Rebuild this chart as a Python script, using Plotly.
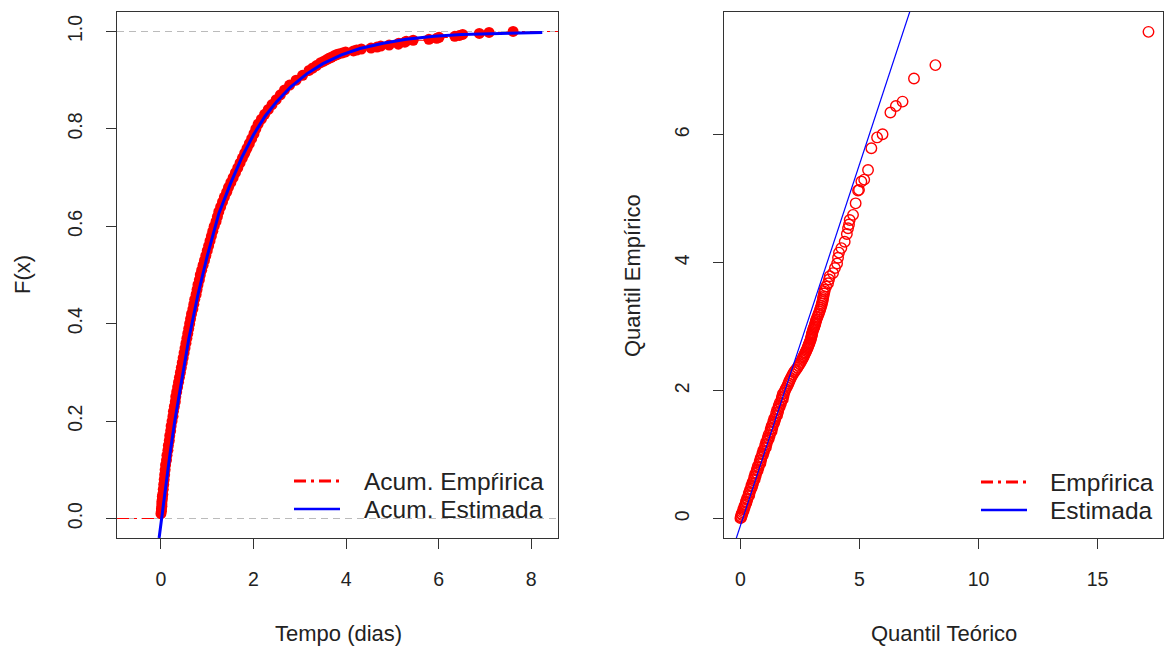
import plotly.graph_objects as go

W, H = 1165, 648

# ---------------- data ----------------
# Left panel: empirical cumulative distribution (sorted times, cumulative proportion)
ecdf_tempo = [0.00, 0.01, 0.01, 0.02, 0.02, 0.02, 0.03, 0.03, 0.04, 0.05, 0.06, 0.07, 0.08, 0.09,
              0.10, 0.12, 0.13, 0.15, 0.16, 0.18, 0.19, 0.21, 0.22, 0.24, 0.26, 0.27, 0.29, 0.31,
              0.32, 0.34, 0.36, 0.38, 0.40, 0.42, 0.44, 0.46, 0.48, 0.50, 0.52, 0.54, 0.56, 0.58,
              0.60, 0.62, 0.64, 0.66, 0.69, 0.71, 0.73, 0.76, 0.78, 0.80, 0.83, 0.85, 0.88, 0.91,
              0.94, 0.97, 1.00, 1.03, 1.06, 1.09, 1.12, 1.15, 1.19, 1.22, 1.25, 1.29, 1.33, 1.37,
              1.42, 1.46, 1.51, 1.56, 1.61, 1.66, 1.71, 1.76, 1.81, 1.86, 1.91, 1.96, 2.01, 2.05,
              2.10, 2.17, 2.24, 2.32, 2.40, 2.49, 2.58, 2.67, 2.78, 2.92, 3.06, 3.20, 3.28, 3.36,
              3.45, 3.52, 3.58, 3.63, 3.68, 3.74, 3.79, 3.84, 3.92, 3.99, 4.16, 4.23, 4.33, 4.54,
              4.67, 4.75, 4.93, 5.13, 5.14, 5.27, 5.30, 5.45, 5.79, 5.96, 6.01, 6.35, 6.45, 6.52,
              6.88, 7.09, 7.61]
ecdf_prop = [0.010, 0.015, 0.020, 0.025, 0.030, 0.035, 0.040, 0.045, 0.050, 0.06, 0.07, 0.08, 0.09,
             0.10, 0.11, 0.12, 0.13, 0.14, 0.15, 0.16, 0.17, 0.18, 0.19, 0.20, 0.21, 0.22, 0.23,
             0.24, 0.25, 0.26, 0.27, 0.28, 0.29, 0.30, 0.31, 0.32, 0.33, 0.34, 0.35, 0.36, 0.37,
             0.38, 0.39, 0.40, 0.41, 0.42, 0.43, 0.44, 0.45, 0.46, 0.47, 0.48, 0.49, 0.50, 0.51,
             0.52, 0.53, 0.54, 0.55, 0.56, 0.57, 0.58, 0.59, 0.60, 0.61, 0.62, 0.63, 0.64, 0.65,
             0.66, 0.67, 0.68, 0.69, 0.70, 0.71, 0.72, 0.73, 0.74, 0.75, 0.76, 0.77, 0.78, 0.79,
             0.80, 0.81, 0.82, 0.83, 0.84, 0.85, 0.86, 0.87, 0.88, 0.89, 0.90, 0.91, 0.92, 0.925,
             0.930, 0.936, 0.939, 0.942, 0.945, 0.947, 0.950, 0.952, 0.954, 0.956, 0.958, 0.960,
             0.962, 0.964, 0.966, 0.968, 0.970, 0.972, 0.974, 0.976, 0.978, 0.980, 0.982, 0.984,
             0.986, 0.988, 0.990, 0.992, 0.994, 0.996, 0.998, 1.000]

# Left panel: fitted (estimated) cumulative curve
est_tempo = [-0.04, 0.0, 0.1, 0.2, 0.3, 0.45, 0.6, 0.8, 1.0, 1.25, 1.5, 1.75, 2.0, 2.25, 2.5,
             2.8, 3.15, 3.5, 3.9, 4.3, 4.8, 5.3, 5.9, 6.5, 7.2, 7.8, 8.24]
est_prop = [-0.040, -0.009, 0.066, 0.136, 0.201, 0.289, 0.368, 0.460, 0.539, 0.626, 0.687, 0.742,
            0.788, 0.826, 0.856, 0.886, 0.913, 0.934, 0.952, 0.965, 0.976, 0.984, 0.990, 0.994,
            0.996, 0.998, 0.998]

# Right panel: QQ plot (theoretical quantile, empirical quantile)
qq_empirico = [0.01, 0.02, 0.04, 0.06, 0.08, 0.10, 0.12, 0.15, 0.17, 0.20, 0.22, 0.25, 0.27, 0.30,
               0.32, 0.35, 0.37, 0.40, 0.42, 0.45, 0.47, 0.50, 0.52, 0.55, 0.57, 0.60, 0.62, 0.65,
               0.67, 0.70, 0.72, 0.75, 0.77, 0.80, 0.82, 0.85, 0.87, 0.90, 0.92, 0.95, 0.97, 1.00,
               1.02, 1.05, 1.07, 1.10, 1.12, 1.15, 1.17, 1.20, 1.22, 1.25, 1.27, 1.30, 1.32, 1.35,
               1.37, 1.40, 1.42, 1.45, 1.47, 1.50, 1.52, 1.55, 1.57, 1.60, 1.62, 1.65, 1.67, 1.70,
               1.72, 1.75, 1.77, 1.80, 1.82, 1.85, 1.87, 1.90, 1.92, 1.95, 1.97, 2.00, 2.03, 2.06,
               2.09, 2.12, 2.15, 2.17, 2.20, 2.23, 2.26, 2.29, 2.31, 2.33, 2.36, 2.39, 2.42, 2.45,
               2.48, 2.50, 2.52, 2.54, 2.56, 2.58, 2.60, 2.62, 2.64, 2.66, 2.68, 2.70, 2.72, 2.74,
               2.76, 2.78, 2.80, 2.82, 2.84, 2.86, 2.88, 2.90, 2.92, 2.95, 2.97, 2.99, 3.01, 3.03,
               3.05, 3.07, 3.09, 3.11, 3.14, 3.16, 3.19, 3.21, 3.24, 3.27, 3.30, 3.33, 3.36, 3.39,
               3.42, 3.45, 3.48, 3.52, 3.55, 3.58, 3.63, 3.68, 3.74, 3.79, 3.84, 3.92, 3.99, 4.08,
               4.16, 4.23, 4.33, 4.45, 4.54, 4.60, 4.67, 4.75, 4.93, 5.13, 5.14, 5.27, 5.30, 5.45,
               5.79, 5.96, 6.01, 6.35, 6.45, 6.52, 6.88, 7.09, 7.61]
qq_teorico = [0.00, 0.03, 0.02, 0.07, 0.05, 0.09, 0.13, 0.12, 0.17, 0.17, 0.21, 0.25, 0.23, 0.29,
              0.28, 0.33, 0.37, 0.35, 0.40, 0.40, 0.45, 0.49, 0.46, 0.53, 0.51, 0.56, 0.60, 0.58,
              0.64, 0.62, 0.67, 0.72, 0.69, 0.76, 0.73, 0.79, 0.84, 0.81, 0.87, 0.85, 0.90, 0.95,
              0.92, 0.99, 0.96, 1.03, 1.07, 1.04, 1.10, 1.08, 1.14, 1.19, 1.15, 1.23, 1.19, 1.26,
              1.31, 1.27, 1.34, 1.31, 1.37, 1.42, 1.38, 1.46, 1.42, 1.49, 1.54, 1.50, 1.58, 1.54,
              1.60, 1.65, 1.61, 1.70, 1.66, 1.73, 1.78, 1.74, 1.81, 1.78, 1.84, 1.87, 1.90, 1.95,
              1.99, 2.02, 2.05, 2.08, 2.12, 2.16, 2.20, 2.25, 2.29, 2.33, 2.39, 2.44, 2.49, 2.54,
              2.58, 2.61, 2.63, 2.66, 2.68, 2.71, 2.73, 2.76, 2.78, 2.81, 2.83, 2.85, 2.87, 2.89,
              2.91, 2.93, 2.95, 2.96, 2.98, 2.99, 3.00, 3.01, 3.03, 3.05, 3.07, 3.09, 3.11, 3.13,
              3.14, 3.16, 3.17, 3.19, 3.22, 3.24, 3.27, 3.29, 3.32, 3.35, 3.37, 3.40, 3.42, 3.44,
              3.46, 3.47, 3.49, 3.51, 3.53, 3.54, 3.60, 3.68, 3.72, 3.75, 3.89, 3.97, 4.06, 4.10,
              4.14, 4.24, 4.38, 4.47, 4.52, 4.56, 4.59, 4.73, 4.84, 4.94, 4.98, 5.08, 5.20, 5.36,
              5.50, 5.74, 5.97, 6.30, 6.53, 6.81, 7.29, 8.19, 17.14]

# Right panel: reference line (intercept, slope)
qq_intercepto = -0.107
qq_inclinacao = 1.129

# axis ticks / ranges
x1_ticks = [0, 2, 4, 6, 8]
y1_ticks = [0.0, 0.2, 0.4, 0.6, 0.8, 1.0]
y1_ticklabels = ["0.0", "0.2", "0.4", "0.6", "0.8", "1.0"]
x2_ticks = [0, 5, 10, 15]
y2_ticks = [0, 2, 4, 6]
x1_range = [-0.95, 8.58]
y1_range = [-0.04, 1.04]
x2_range = [-0.69, 17.75]
y2_range = [-0.30, 7.92]

RED = "#FF0000"
BLUE = "#0000FF"
AXC = "#333333"
TXT = "#222222"
FONT = "Liberation Sans, Arial, sans-serif"


def px(x):
    return x / W


def py(y):
    return 1 - y / H


fig = go.Figure()

# ----- left panel -----
fig.add_trace(go.Scatter(
    x=[x1_range[0]] + ecdf_tempo + [x1_range[1]],
    y=[0] + ecdf_prop + [1],
    mode="lines", line=dict(color=RED, width=1.2, dash="12px,5px,3px,5px", shape="hv"),
    xaxis="x", yaxis="y", hoverinfo="skip"))
fig.add_trace(go.Scatter(
    x=ecdf_tempo, y=ecdf_prop, mode="markers",
    marker=dict(color=RED, size=11, line=dict(width=0)),
    xaxis="x", yaxis="y", name="Acum. Empŕirica"))
fig.add_trace(go.Scatter(
    x=est_tempo, y=est_prop, mode="lines",
    line=dict(color=BLUE, width=3), xaxis="x", yaxis="y", name="Acum. Estimada"))

# ----- right panel -----
fig.add_trace(go.Scatter(
    x=qq_teorico, y=qq_empirico, mode="markers",
    marker=dict(symbol="circle-open", color=RED, size=10.5, line=dict(width=1.4, color=RED)),
    xaxis="x2", yaxis="y2", name="Empŕirica"))
line_x = [x2_range[0], x2_range[1]]
line_y = [qq_intercepto + qq_inclinacao * v for v in line_x]
fig.add_trace(go.Scatter(
    x=line_x, y=line_y, mode="lines", line=dict(color=BLUE, width=1.2),
    xaxis="x2", yaxis="y2", name="Estimada"))

axis_common = dict(
    showgrid=False, zeroline=False, showline=True, mirror=True,
    linecolor=AXC, linewidth=1, ticks="outside", ticklen=10, tickwidth=1,
    tickcolor=AXC, tickfont=dict(family=FONT, size=19.5, color=TXT),
)

ydom = [py(538), py(12)]
fig.update_layout(
    width=W, height=H, margin=dict(l=0, r=0, t=0, b=0),
    paper_bgcolor="white", plot_bgcolor="white", showlegend=False,
    font=dict(family=FONT, color=TXT),
    xaxis=dict(domain=[px(117), px(558)], range=x1_range, tickvals=x1_ticks,
               anchor="y", ticklabelstandoff=14, **axis_common),
    yaxis=dict(domain=ydom, range=y1_range, tickvals=y1_ticks, ticktext=y1_ticklabels,
               tickangle=-90, anchor="x", ticklabelstandoff=16, **axis_common),
    xaxis2=dict(domain=[px(724), px(1163)], range=x2_range, tickvals=x2_ticks,
                anchor="y2", ticklabelstandoff=14, **axis_common),
    yaxis2=dict(domain=ydom, range=y2_range, tickvals=y2_ticks,
                tickangle=-90, anchor="x2", ticklabelstandoff=16, **axis_common),
)

shapes = []
# grey dashed horizontal reference lines at 0 and 1 (left panel)
for h in [0, 1]:
    shapes.append(dict(type="line", xref="x domain", yref="y", x0=0, x1=1, y0=h, y1=h,
                       line=dict(color="#BBBBBB", width=1.2, dash="7px,5px"), layer="below"))

# legends (drawn inside the panels, no box)
legend_items = [
    (294, 340, 362, 481, RED, "12px,5px,3px,5px", 3, "Acum. Empŕirica"),
    (294, 340, 362, 509, BLUE, "solid", 2.5, "Acum. Estimada"),
    (981, 1027, 1048, 482, RED, "12px,5px,3px,5px", 3, "Empŕirica"),
    (981, 1027, 1048, 510, BLUE, "solid", 2.5, "Estimada"),
]
annotations = []
for x0, x1, xt, yc, col, dash, wd, label in legend_items:
    shapes.append(dict(type="line", xref="paper", yref="paper", x0=px(x0), x1=px(x1),
                       y0=py(yc), y1=py(yc), line=dict(color=col, width=wd, dash=dash)))
    annotations.append(dict(x=px(xt), y=py(yc), xref="paper", yref="paper", text=label,
                            showarrow=False, xanchor="left", yanchor="middle",
                            font=dict(family=FONT, size=24.5, color=TXT)))

# axis titles
titles = [
    (338, 633, 0, "Tempo (dias)"),
    (22, 275, -90, "F(x)"),
    (944, 633, 0, "Quantil Teórico"),
    (632, 275, -90, "Quantil Empírico"),
]
for x, y, ang, t in titles:
    annotations.append(dict(x=px(x), y=py(y), xref="paper", yref="paper", text=t,
                            showarrow=False, xanchor="center", yanchor="middle", textangle=ang,
                            font=dict(family=FONT, size=22, color=TXT)))

fig.update_layout(shapes=shapes, annotations=annotations)
fig.write_html("out.html")
